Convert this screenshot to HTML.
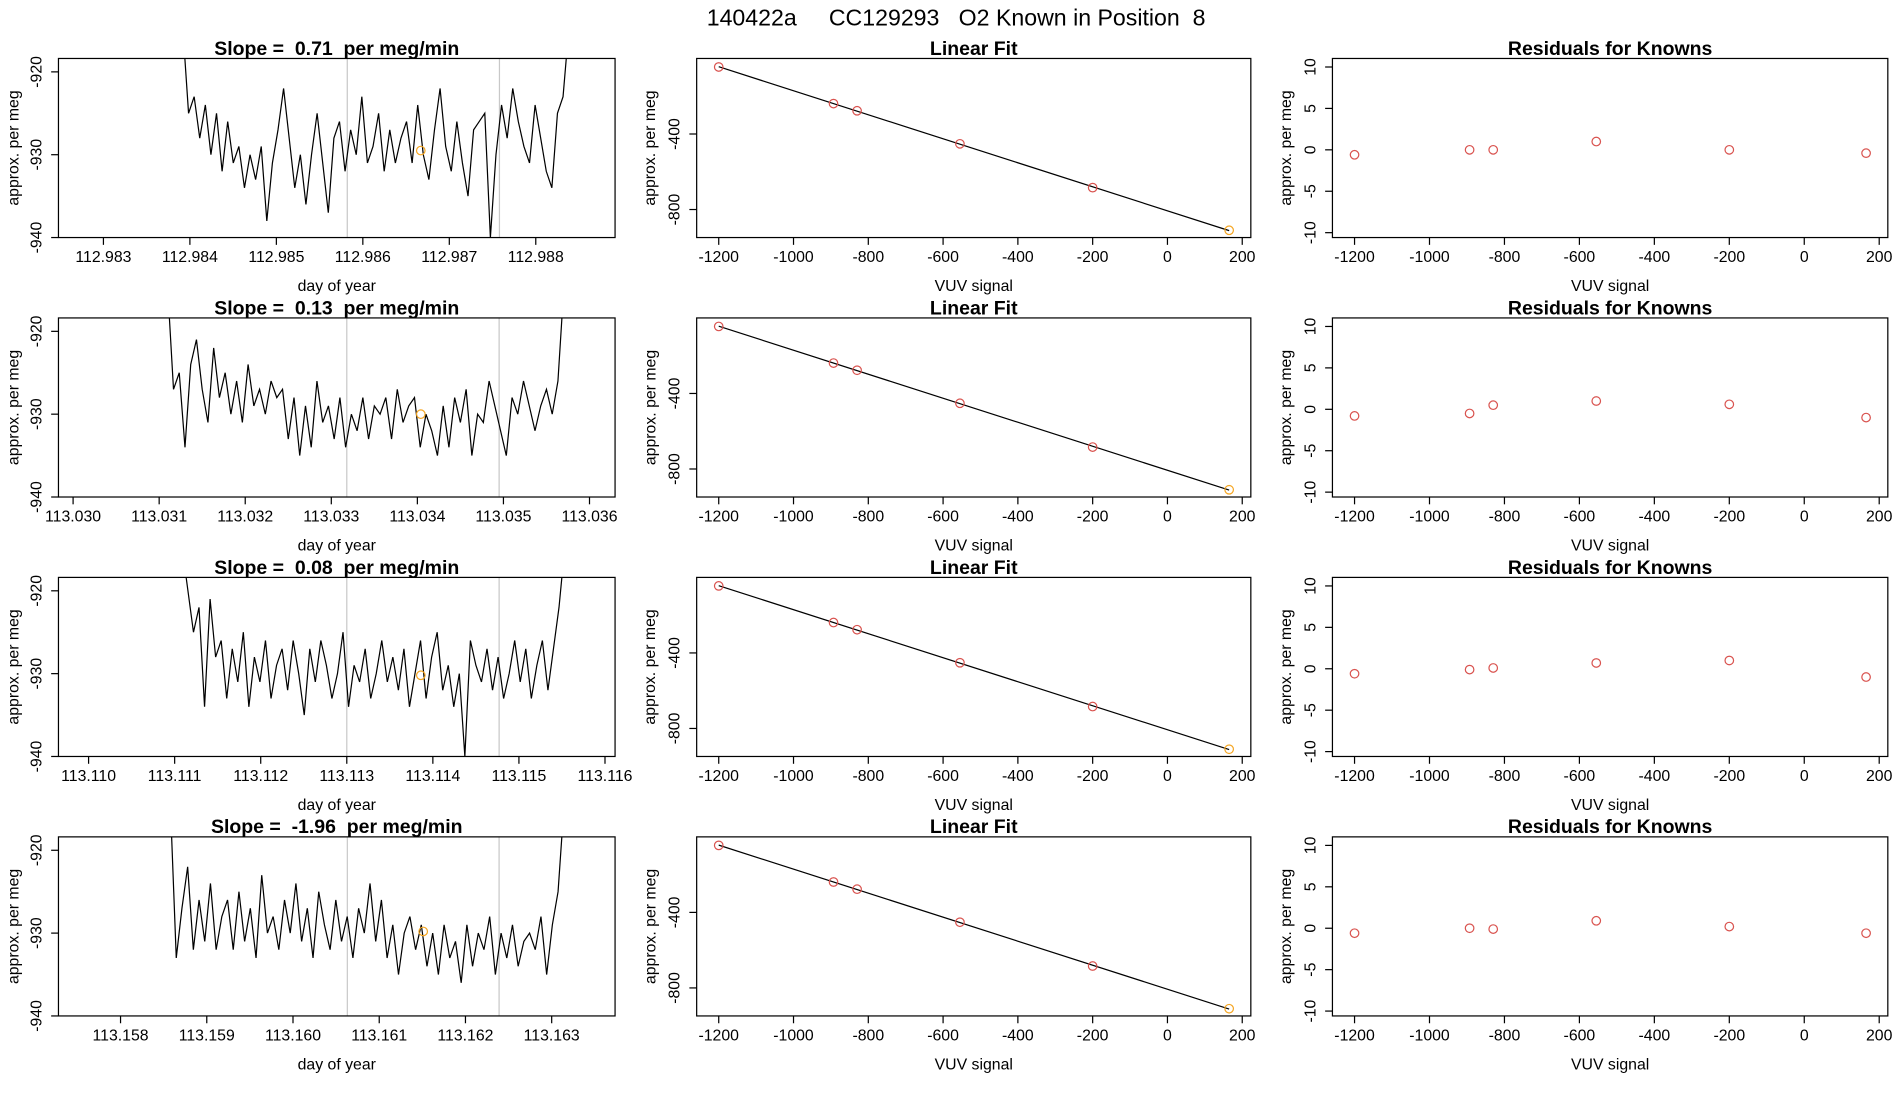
<!DOCTYPE html>
<html><head><meta charset="utf-8">
<style>
html,body{margin:0;padding:0;background:#fff;}
svg{display:block;font-family:"Liberation Sans",sans-serif;}
</style></head>
<body>
<svg id="chart" width="1900" height="1100" viewBox="0 0 1560 903" preserveAspectRatio="none" xmlns="http://www.w3.org/2000/svg" xml:space="preserve">
<text x="785" y="21" text-anchor="middle" font-size="19" xml:space="preserve">140422a     CC129293   O2 Known in Position  8</text>
</svg>
<script>
// ---- data ----
const slopes = ["0.71","0.13","0.08","-1.96"];
const dayStarts = [112.98392, 113.03110, 113.11109, 113.15858];
const dayEnds   = [112.98838, 113.03570, 113.11553, 113.16314];
const dayTicks = [
  ["112.983","112.984","112.985","112.986","112.987","112.988"],
  ["113.030","113.031","113.032","113.033","113.034","113.035","113.036"],
  ["113.110","113.111","113.112","113.113","113.114","113.115","113.116"],
  ["113.158","113.159","113.160","113.161","113.162","113.163"]
];
const dayDomains = [[112.98248,112.988917],[113.02983,113.036297],[113.10965,113.116117],[113.15728,113.163735]];
const grayLines = [[112.98582,112.98758],[113.03318,113.03495],[113.11300,113.11477],[113.16063,113.16239]];
const knownDay = [112.98667,113.03404,113.11386,113.16151];
const knownVal = [-929.5,-930,-930.2,-929.8];
const series1 = [-915,-925,-923,-928,-924,-930,-925,-932,-926,-931,-929,-934,-930,-933,-929,-938,-931,-927,-922,-928,-934,-930,-936,-930,-925,-931,-937,-928,-926,-932,-927,-930,-923,-931,-929,-925,-932,-927,-931,-928,-926,-931,-924,-930,-933,-927,-922,-929,-932,-926,-931,-935,-927,-926,-925,-940,-930,-924,-928,-922,-926,-929,-931,-924,-928,-932,-934,-925,-923,-915];
const series2 = [-915,-927,-925,-934,-924,-921,-927,-931,-922,-928,-925,-930,-926,-931,-924,-929,-927,-930,-926,-928,-927,-933,-928,-935,-929,-934,-926,-931,-929,-933,-928,-934,-930,-932,-928,-933,-929,-930,-928,-933,-927,-931,-929,-928,-934,-930,-932,-935,-929,-934,-928,-931,-927,-935,-930,-931,-926,-929,-932,-935,-928,-930,-926,-929,-932,-929,-927,-930,-926,-915];
const series3 = [-915,-920,-925,-922,-934,-921,-928,-926,-933,-927,-931,-925,-934,-928,-931,-926,-933,-929,-927,-932,-926,-930,-935,-927,-931,-926,-929,-933,-930,-925,-934,-929,-931,-927,-933,-930,-926,-931,-928,-932,-927,-934,-930,-926,-933,-928,-925,-932,-929,-934,-930,-940,-926,-929,-931,-927,-932,-928,-933,-930,-926,-931,-927,-933,-929,-926,-932,-927,-922,-915];
const series4 = [-915,-933,-927,-922,-932,-926,-931,-924,-932,-928,-926,-932,-925,-931,-927,-933,-923,-930,-928,-932,-926,-930,-924,-931,-927,-933,-925,-929,-932,-926,-931,-928,-933,-927,-930,-924,-931,-926,-933,-929,-935,-930,-928,-932,-929,-934,-930,-935,-929,-933,-931,-936,-929,-934,-930,-932,-928,-935,-930,-933,-929,-934,-931,-930,-932,-928,-935,-929,-925,-915];
const allSeries = [series1,series2,series3,series4];
const vuv = [-1200,-893,-830,-555,-200,165];
const fitVals = [
  [-45,-239,-277,-452,-684,-910],
  [-45,-239,-277,-452,-684,-910],
  [-45,-239,-277,-452,-684,-910],
  [-45,-239,-277,-452,-684,-910]
];
const residuals = [
  [-0.6,0,0,1,0,-0.4],
  [-0.8,-0.5,0.5,1,0.6,-1],
  [-0.6,-0.1,0.1,0.7,1.0,-1.0],
  [-0.6,0,-0.1,0.9,0.2,-0.6]
];
const vuvTicks = [-1200,-1000,-800,-600,-400,-200,0,200];
const fitYTicks = [-400,-800];
const resYTicks = [10,5,0,-5,-10];
const tsYTicks = [-920,-930,-940];

// ---- drawing ----
const svg = document.getElementById('chart');
const NS = 'http://www.w3.org/2000/svg';
function mk(tag, attrs, parent){
  const e = document.createElementNS(NS, tag);
  for (const k in attrs) e.setAttribute(k, attrs[k]);
  (parent||svg).appendChild(e);
  return e;
}
function txt(s, x, y, size, anchor, rot, weight){
  const t = mk('text', {x:x, y:y, 'font-size':size, 'text-anchor':anchor||'middle'});
  t.setAttribute('xml:space','preserve');
  t.style.whiteSpace = 'pre';
  if (rot) t.setAttribute('transform', 'rotate(-90 '+x+' '+y+')');
  if (weight) t.setAttribute('font-weight', weight);
  t.textContent = s;
  return t;
}
const rowTop = [48,261,474,687];
const boxH = 147;
const cols = [{l:48,r:505},{l:572,r:1027},{l:1094,r:1550}];
const vx0 = -1259, vx1 = 223;
const TL = 20, AT = 44;

for (let r=0;r<4;r++){
  const top = rowTop[r], bot = top+boxH;
  // ---------- time series ----------
  {
    const c = cols[0];
    const g = mk('g', {});
    
    
    const xs = d => c.l + (d-dayDomains[r][0])/(dayDomains[r][1]-dayDomains[r][0])*(c.r-c.l);
    const ys = v => top + 11 + (-920 - v)*(136/20);
    const cp = mk('clipPath', {id:'clip'+r}, g);
    mk('rect', {x:c.l, y:top, width:c.r-c.l, height:boxH}, cp);
    grayLines[r].forEach(d=>{
      const l = mk('line', {x1:xs(d), x2:xs(d), y1:top, y2:bot, stroke:'#c8c8c8', 'stroke-width':1}, g);
      
      
    });
    const s = allSeries[r];
    const pts = s.map((v,i)=>{
      const d = dayStarts[r] + (dayEnds[r]-dayStarts[r])*i/(s.length-1);
      return xs(d).toFixed(2)+','+ys(v).toFixed(2);
    }).join(' ');
    const pl = mk('polyline', {points:pts, fill:'none', stroke:'#000', 'stroke-width':1, 'clip-path':'url(#clip'+r+')'}, g);
    
    
    const kc = mk('circle', {cx:xs(knownDay[r]), cy:ys(knownVal[r]), r:3.5, fill:'none', stroke:'#f5a623', 'stroke-width':1}, g);
    
    
    const bx = mk('rect', {x:c.l, y:top, width:c.r-c.l, height:boxH, fill:'none', stroke:'#000', 'stroke-width':1}, g);
    
    
    dayTicks[r].forEach(t=>{
      const x = xs(parseFloat(t));
      mk('line', {x1:x,x2:x,y1:bot,y2:bot+6,stroke:'#000'}, g);
      const tl = txt(t, x, bot+TL, 13);
      
      
    });
    tsYTicks.forEach(v=>{
      const y = ys(v);
      mk('line', {x1:c.l-6,x2:c.l,y1:y,y2:y,stroke:'#000'}, g);
      const tl = txt(String(v), c.l-14, y, 13, 'middle', true);
      
      
    });
    const xt = txt('day of year', (c.l+c.r)/2, bot+AT, 13);
    
    
    const yt = txt('approx. per meg', 15, (top+bot)/2, 13, 'middle', true);
    
    
    const ti = txt('Slope =  '+slopes[r]+'  per meg/min', (c.l+c.r)/2, top-3, 16, 'middle', false, 'bold');
    
    
  }
  // ---------- linear fit ----------
  {
    const c = cols[1];
    const g = mk('g', {});
    
    
    const xs = v => c.l + (v-vx0)/(vx1-vx0)*(c.r-c.l);
    const ys = v => top + 62 + (-400 - v)*0.155;
    const fv = fitVals[r];
    const n = vuv.length;
    let sx=0,sy=0,sxx=0,sxy=0;
    for (let i=0;i<n;i++){sx+=vuv[i];sy+=fv[i];sxx+=vuv[i]*vuv[i];sxy+=vuv[i]*fv[i];}
    const b = (n*sxy-sx*sy)/(n*sxx-sx*sx), a = (sy-b*sx)/n;
    const fl = mk('line', {x1:xs(vuv[0]), y1:ys(a+b*vuv[0]), x2:xs(vuv[n-1]), y2:ys(a+b*vuv[n-1]), stroke:'#000', 'stroke-width':1}, g);
    
    
    vuv.forEach((v,i)=>{
      const p = mk('circle', {cx:xs(v), cy:ys(fv[i]), r:3.5, fill:'none', stroke: i===n-1?'#f5a623':'#d9534f', 'stroke-width':1}, g);
      
      
    });
    const bx = mk('rect', {x:c.l, y:top, width:c.r-c.l, height:boxH, fill:'none', stroke:'#000'}, g);
    
    
    vuvTicks.forEach(v=>{
      const x = xs(v);
      mk('line', {x1:x,x2:x,y1:bot,y2:bot+6,stroke:'#000'}, g);
      const tl = txt(String(v), x, bot+TL, 13);
      
      
    });
    fitYTicks.forEach(v=>{
      const y = ys(v);
      mk('line', {x1:c.l-6,x2:c.l,y1:y,y2:y,stroke:'#000'}, g);
      const tl = txt(String(v), c.l-14, y, 13, 'middle', true);
      
      
    });
    const xt = txt('VUV signal', (c.l+c.r)/2, bot+AT, 13);
    
    
    const yt = txt('approx. per meg', c.l-34, (top+bot)/2, 13, 'middle', true);
    
    
    const ti = txt('Linear Fit', (c.l+c.r)/2, top-3, 16, 'middle', false, 'bold');
    
    
  }
  // ---------- residuals ----------
  {
    const c = cols[2];
    const g = mk('g', {});
    
    
    const xs = v => c.l + (v-vx0)/(vx1-vx0)*(c.r-c.l);
    const ys = v => top + 75 - v*6.8;
    residuals[r].forEach((v,i)=>{
      const p = mk('circle', {cx:xs(vuv[i]), cy:ys(v), r:3.5, fill:'none', stroke:'#d9534f', 'stroke-width':1}, g);
      
      
    });
    const bx = mk('rect', {x:c.l, y:top, width:c.r-c.l, height:boxH, fill:'none', stroke:'#000'}, g);
    
    
    vuvTicks.forEach(v=>{
      const x = xs(v);
      mk('line', {x1:x,x2:x,y1:bot,y2:bot+6,stroke:'#000'}, g);
      const tl = txt(String(v), x, bot+TL, 13);
      
      
    });
    resYTicks.forEach(v=>{
      const y = ys(v);
      mk('line', {x1:c.l-6,x2:c.l,y1:y,y2:y,stroke:'#000'}, g);
      const tl = txt(String(v), c.l-14, y, 13, 'middle', true);
      
      
    });
    const xt = txt('VUV signal', (c.l+c.r)/2, bot+AT, 13);
    
    
    const yt = txt('approx. per meg', c.l-34, (top+bot)/2, 13, 'middle', true);
    
    
    const ti = txt('Residuals for Knowns', (c.l+c.r)/2, top-3, 16, 'middle', false, 'bold');
    
    
  }
}
</script>
</body></html>
